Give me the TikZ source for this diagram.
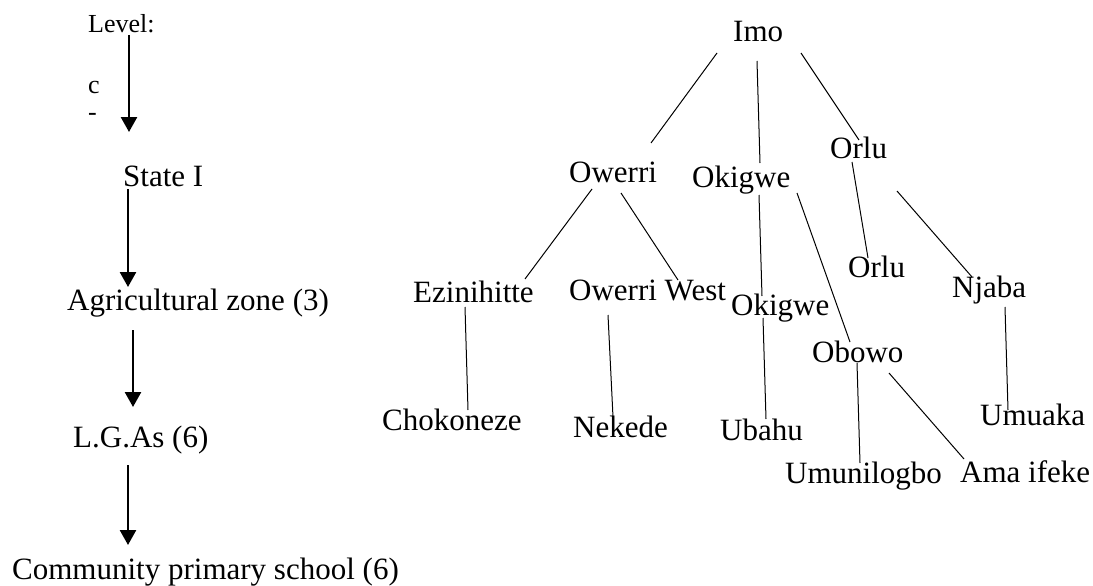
\documentclass[tikz,border=0pt]{standalone}
\usepackage{fontspec}
\setmainfont{Liberation Serif}
\usetikzlibrary{arrows.meta,calc}
\begin{document}
\begin{tikzpicture}[x=1pt,y=-1pt,
  lbl/.style={anchor=base west,inner sep=0pt,font=\fontsize{31}{37}\selectfont},
  small/.style={anchor=base west,inner sep=0pt,font=\fontsize{26}{31}\selectfont},
  arr/.style={line width=2.6pt,-{Triangle[width=16pt,length=15pt]}},
  tree/.style={line width=1pt}]
\path[use as bounding box] (0,0) rectangle (1093,586);
% left column
\node[small] (level) at (88,33) {Level:};
\node[small] (c) at (88,93) {c};
\node[small] (dash) at (88,121) {-};
\node[lbl] (state) at (123,186) {State I};
\node[lbl] (agri) at (67,310) {Agricultural zone (3)};
\node[lbl] (lgas) at (73,447) {L.G.As (6)};
\node[lbl] (comm) at (12,579) {Community primary school (6)};
\draw[arr] ($(level.base west)+(41,2)$) -- ($(state.base west)+(6,-54)$);
\draw[arr] ($(state.base west)+(5,3)$) -- ($(agri.base west)+(61,-23)$);
\draw[arr] ($(agri.base west)+(66,20)$) -- ($(lgas.base west)+(60,-40)$);
\draw[arr] ($(lgas.base west)+(55,18)$) -- ($(comm.base west)+(116,-34)$);
% tree
\node[lbl] (imo) at (733,42) {Imo};
\node[lbl] (owerri) at (569,182) {Owerri};
\node[lbl] (okigwe1) at (692,187) {Okigwe};
\node[lbl] (orlu1) at (830,158) {Orlu};
\node[lbl] (ezin) at (413,302) {Ezinihitte};
\node[lbl] (owest) at (569,300) {Owerri West};
\node[lbl] (okigwe2) at (731,315) {Okigwe};
\node[lbl] (orlu2) at (848,277) {Orlu};
\node[lbl] (njaba) at (952,297) {Njaba};
\node[lbl] (chok) at (382,430) {Chokoneze};
\node[lbl] (nekede) at (573,437) {Nekede};
\node[lbl] (ubahu) at (720,440) {Ubahu};
\node[lbl] (obowo) at (812,362) {Obowo};
\node[lbl] (umunil) at (785,483) {Umunilogbo};
\node[lbl] (amaif) at (960,482) {Ama ifeke};
\node[lbl] (umuaka) at (980,425) {Umuaka};
\draw[tree] ($(imo.base west)+(-16,11)$) -- ($(owerri.base west)+(82,-39)$);
\draw[tree] ($(imo.base west)+(24,19)$) -- ($(okigwe1.base west)+(68,-24)$);
\draw[tree] ($(imo.base west)+(68,11)$) -- ($(orlu1.base west)+(29,-18)$);
\draw[tree] ($(owerri.base west)+(23,7)$) -- ($(ezin.base west)+(112,-23)$);
\draw[tree] ($(owerri.base west)+(52,11)$) -- ($(owest.base west)+(109,-20)$);
\draw[tree] ($(okigwe1.base west)+(67,8)$) -- ($(okigwe2.base west)+(31,-19)$);
\draw[tree] ($(okigwe2.base west)+(32,3)$) -- ($(ubahu.base west)+(46,-21)$);
\draw[tree] ($(okigwe1.base west)+(105,6)$) -- ($(obowo.base west)+(38,-20)$);
\draw[tree] ($(orlu1.base west)+(22,4)$) -- ($(orlu2.base west)+(20,-19)$);
\draw[tree] ($(orlu1.base west)+(67,33)$) -- ($(njaba.base west)+(20,-20)$);
\draw[tree] ($(ezin.base west)+(52,5)$) -- ($(chok.base west)+(86,-20)$);
\draw[tree] ($(owest.base west)+(39,15)$) -- ($(nekede.base west)+(40,-20)$);
\draw[tree] ($(njaba.base west)+(53,10)$) -- ($(umuaka.base west)+(28,-15)$);
\draw[tree] ($(obowo.base west)+(45,1)$) -- ($(umunil.base west)+(75,-20)$);
\draw[tree] ($(obowo.base west)+(77,11)$) -- ($(amaif.base west)+(4,-23)$);
\end{tikzpicture}
\end{document}
